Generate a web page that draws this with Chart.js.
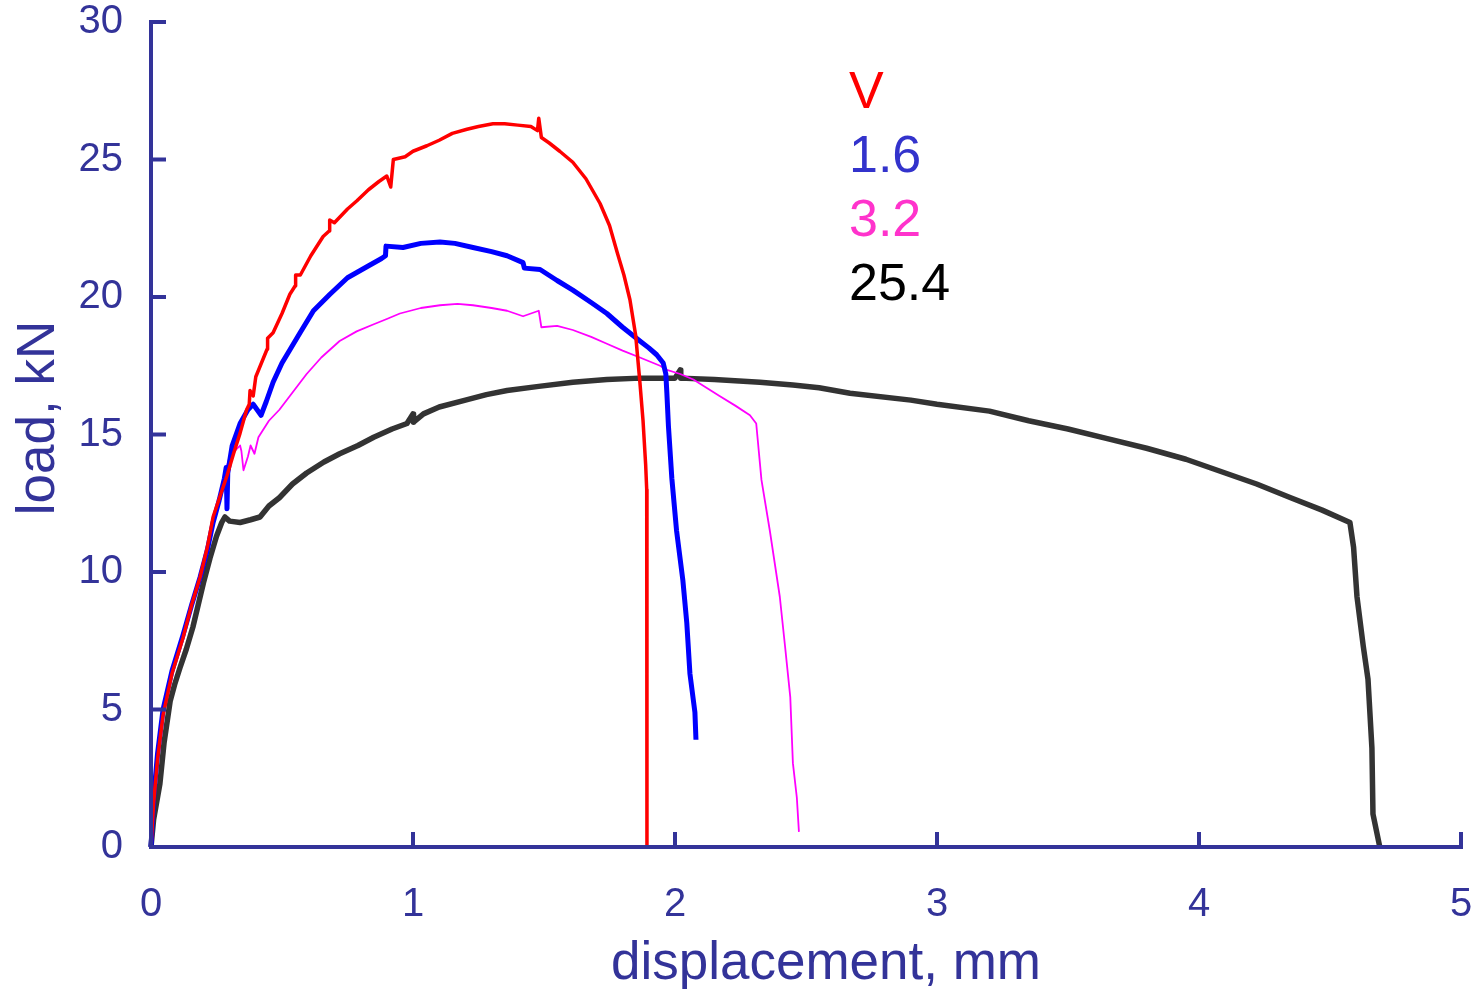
<!DOCTYPE html>
<html>
<head>
<meta charset="utf-8">
<script src="https://cdn.jsdelivr.net/npm/chart.js@4/dist/chart.umd.min.js"></script>
<style>
  html, body { margin: 0; padding: 0; background: #fff; }
  #wrap { width: 1478px; height: 989px; position: relative; }
</style>
</head>
<body>
<div id="wrap"><canvas id="chart"></canvas></div>
<script>
// load-displacement curves, one pair of arrays per specimen
const seriesLabels = ['V', '1.6', '3.2', '25.4'];
const lineColors = ['#ff0000', '#0000ff', '#ff00ff', '#333333'];
const labelColors = ['#ff0000', '#3333cc', '#ff33cc', '#000000'];
const lineWidths = [3.5, 5, 1.8, 5.5];

const xTicks = [0, 1, 2, 3, 4, 5];
const yTicks = [0, 5, 10, 15, 20, 25, 30];

const dispV = [0, 0.01, 0.025, 0.046, 0.08, 0.122, 0.155, 0.187, 0.215, 0.237, 0.265, 0.29, 0.315, 0.34, 0.365, 0.375,
  0.378, 0.39, 0.40, 0.443, 0.445, 0.466, 0.5, 0.53, 0.55, 0.552, 0.57, 0.61, 0.657, 0.68, 0.682, 0.7, 0.75, 0.786,
  0.83, 0.87, 0.9, 0.915, 0.925, 0.97, 1.0, 1.053, 1.1, 1.15, 1.206, 1.25, 1.305, 1.35, 1.4, 1.45, 1.475, 1.48, 1.49,
  1.52, 1.56, 1.61, 1.66, 1.714, 1.75, 1.78, 1.805, 1.828, 1.85, 1.866, 1.878, 1.888, 1.892, 1.893];
const loadV = [0, 1.6, 3.2, 4.8, 6.3, 7.6, 8.8, 9.8, 10.9, 12.0, 12.8, 13.5, 14.3, 15.05, 15.9, 16.1,
  16.6, 16.4, 17.1, 18.1, 18.5, 18.7, 19.4, 20.1, 20.4, 20.8, 20.8, 21.5, 22.2, 22.4, 22.8, 22.7, 23.2, 23.5,
  23.9, 24.2, 24.4, 24.0, 25.0, 25.1, 25.3, 25.5, 25.7, 25.95, 26.1, 26.2, 26.3, 26.3, 26.25, 26.2, 26.05, 26.5, 25.8,
  25.6, 25.3, 24.9, 24.3, 23.4, 22.6, 21.6, 20.8, 19.9, 18.6, 16.9, 15.5, 13.9, 13.0, 0];

const disp16 = [0, 0.01, 0.025, 0.046, 0.08, 0.122, 0.155, 0.187, 0.215, 0.237, 0.26, 0.28, 0.287, 0.29, 0.293, 0.31,
  0.34, 0.37, 0.39, 0.42, 0.44, 0.466, 0.5, 0.569, 0.62, 0.683, 0.75, 0.824, 0.88, 0.895, 0.897, 0.962, 1.03, 1.103,
  1.16, 1.229, 1.3, 1.359, 1.42, 1.425, 1.485, 1.55, 1.61, 1.68, 1.74, 1.8, 1.866, 1.9, 1.93, 1.955, 1.965, 1.969,
  1.975, 1.988, 2.006, 2.03, 2.045, 2.057, 2.076, 2.08];
const load16 = [0, 1.8, 3.4, 5.0, 6.4, 7.7, 8.8, 9.8, 10.8, 11.8, 12.6, 13.4, 13.8, 12.3, 13.6, 14.6,
  15.4, 15.9, 16.1, 15.7, 16.2, 16.9, 17.6, 18.7, 19.5, 20.1, 20.7, 21.1, 21.4, 21.5, 21.85, 21.8, 21.95, 22.0,
  21.95, 21.8, 21.65, 21.5, 21.25, 21.05, 21.0, 20.6, 20.25, 19.8, 19.4, 18.9, 18.4, 18.15, 17.9, 17.6, 17.2, 16.5,
  15.3, 13.4, 11.5, 9.7, 8.15, 6.3, 4.9, 3.9];

const disp32 = [0, 0.01, 0.025, 0.046, 0.08, 0.122, 0.155, 0.187, 0.215, 0.237, 0.26, 0.28, 0.3, 0.34, 0.345, 0.353,
  0.37, 0.38, 0.395, 0.41, 0.45, 0.49, 0.53, 0.594, 0.65, 0.72, 0.785, 0.848, 0.9, 0.95, 1.03, 1.103, 1.17, 1.229,
  1.3, 1.359, 1.42, 1.48, 1.49, 1.55, 1.61, 1.68, 1.74, 1.8, 1.866, 1.943, 1.969, 2.02, 2.07, 2.12, 2.17, 2.23,
  2.286, 2.31, 2.33, 2.362, 2.4, 2.42, 2.44, 2.45, 2.465, 2.473];
const load32 = [0, 1.8, 3.4, 5.0, 6.4, 7.7, 8.8, 9.9, 10.9, 11.9, 12.7, 13.5, 14.2, 14.6, 14.4, 13.7,
  14.2, 14.6, 14.3, 14.9, 15.5, 15.9, 16.4, 17.2, 17.8, 18.4, 18.75, 19.0, 19.2, 19.4, 19.6, 19.7, 19.75, 19.7,
  19.6, 19.5, 19.3, 19.5, 18.9, 18.95, 18.8, 18.55, 18.3, 18.05, 17.8, 17.5, 17.35, 17.2, 17.0, 16.7, 16.4, 16.05,
  15.7, 15.4, 13.35, 11.5, 9.1, 7.3, 5.45, 3.05, 1.8, 0.55];

const disp254 = [0, 0.01, 0.034, 0.05, 0.073, 0.09, 0.11, 0.135, 0.16, 0.18, 0.2, 0.225, 0.25, 0.27, 0.282, 0.3,
  0.34, 0.38, 0.416, 0.45, 0.49, 0.54, 0.594, 0.66, 0.72, 0.79, 0.85, 0.92, 0.977, 1.0, 1.002, 1.04, 1.1, 1.2, 1.28,
  1.359, 1.48, 1.61, 1.74, 1.866, 2.0, 2.02, 2.022, 2.15, 2.324, 2.45, 2.55, 2.668, 2.9, 3.0, 3.2, 3.35, 3.5, 3.65,
  3.8, 3.95, 4.1, 4.22, 4.35, 4.47, 4.576, 4.59, 4.603, 4.627, 4.645, 4.66, 4.664, 4.69];
const load254 = [0, 1.0, 2.3, 3.8, 5.3, 5.9, 6.5, 7.2, 8.0, 8.8, 9.6, 10.5, 11.3, 11.8, 12.0, 11.85,
  11.8, 11.9, 12.0, 12.4, 12.7, 13.2, 13.6, 14.0, 14.3, 14.6, 14.9, 15.2, 15.4, 15.75, 15.45, 15.75, 16.0, 16.25, 16.45,
  16.6, 16.75, 16.9, 17.0, 17.05, 17.05, 17.35, 17.05, 17.0, 16.9, 16.8, 16.7, 16.5, 16.25, 16.1, 15.85, 15.5, 15.2, 14.85,
  14.5, 14.1, 13.6, 13.2, 12.7, 12.25, 11.8, 10.9, 9.1, 7.3, 6.1, 3.6, 1.2, 0];

const dispSets = [dispV, disp16, disp32, disp254];
const loadSets = [loadV, load16, load32, load254];

const AXIS_COLOR = '#333399';
const FONT = '"Liberation Sans", Arial, sans-serif';

function toPoints(xs, ys) {
  return xs.map((x, i) => ({ x: x, y: ys[i] }));
}

// axis lines, inward ticks, axis titles and the series key
const framePlugin = {
  id: 'frame',
  afterDraw(chart) {
    const ctx = chart.ctx;
    const xs = chart.scales.x;
    const ys = chart.scales.y;
    const area = chart.chartArea;
    ctx.save();
    ctx.strokeStyle = AXIS_COLOR;
    ctx.lineWidth = 4;
    ctx.lineCap = 'butt';
    ctx.beginPath();
    ctx.moveTo(area.left, area.top - 2);
    ctx.lineTo(area.left, area.bottom + 2);
    ctx.moveTo(area.left - 2, area.bottom);
    ctx.lineTo(area.right + 2, area.bottom);
    yTicks.forEach((v) => {
      const py = ys.getPixelForValue(v);
      ctx.moveTo(area.left, py);
      ctx.lineTo(area.left + 15, py);
    });
    xTicks.forEach((v) => {
      const px = xs.getPixelForValue(v);
      ctx.moveTo(px, area.bottom);
      ctx.lineTo(px, area.bottom - 15);
    });
    ctx.stroke();

    ctx.fillStyle = AXIS_COLOR;
    ctx.font = '53px ' + FONT;
    ctx.textAlign = 'center';
    ctx.textBaseline = 'alphabetic';
    ctx.fillText('displacement, mm', 826, 979);

    ctx.save();
    ctx.translate(54, 418);
    ctx.rotate(-Math.PI / 2);
    ctx.fillText('load, kN', 0, 0);
    ctx.restore();

    ctx.font = '52px ' + FONT;
    ctx.textAlign = 'left';
    seriesLabels.forEach((lab, i) => {
      ctx.fillStyle = labelColors[i];
      ctx.fillText(lab, 849, 108 + i * 64);
    });
    ctx.restore();
  }
};

const datasets = seriesLabels.map((lab, i) => ({
  label: lab,
  data: toPoints(dispSets[i], loadSets[i]),
  borderColor: lineColors[i],
  backgroundColor: lineColors[i],
  borderWidth: lineWidths[i],
  borderJoinStyle: 'round',
  showLine: true,
  pointRadius: 0,
  tension: 0,
  clip: false
}));

new Chart(document.getElementById('chart'), {
  type: 'scatter',
  data: { datasets: datasets },
  options: {
    responsive: true,
    maintainAspectRatio: false,
    animation: false,
    devicePixelRatio: 1,
    layout: { padding: { left: 0, top: 22, right: 17, bottom: 0 } },
    plugins: {
      legend: { display: false },
      tooltip: { enabled: false }
    },
    scales: {
      x: {
        type: 'linear',
        min: 0,
        max: 5,
        afterBuildTicks: (s) => { s.ticks = xTicks.map((v) => ({ value: v })); },
        afterFit: (s) => { s.height = 142; s.paddingLeft = 0; s.paddingRight = 0; },
        ticks: { color: AXIS_COLOR, font: { family: FONT, size: 40 }, padding: 34 },
        grid: { display: false, drawTicks: false },
        border: { display: false }
      },
      y: {
        type: 'linear',
        min: 0,
        max: 30,
        afterBuildTicks: (s) => { s.ticks = yTicks.map((v) => ({ value: v })); },
        afterFit: (s) => { s.width = 151; s.paddingTop = 0; s.paddingBottom = 0; },
        ticks: { color: AXIS_COLOR, font: { family: FONT, size: 40 }, padding: 28 },
        grid: { display: false, drawTicks: false },
        border: { display: false }
      }
    }
  },
  plugins: [framePlugin]
});
</script>
</body>
</html>
